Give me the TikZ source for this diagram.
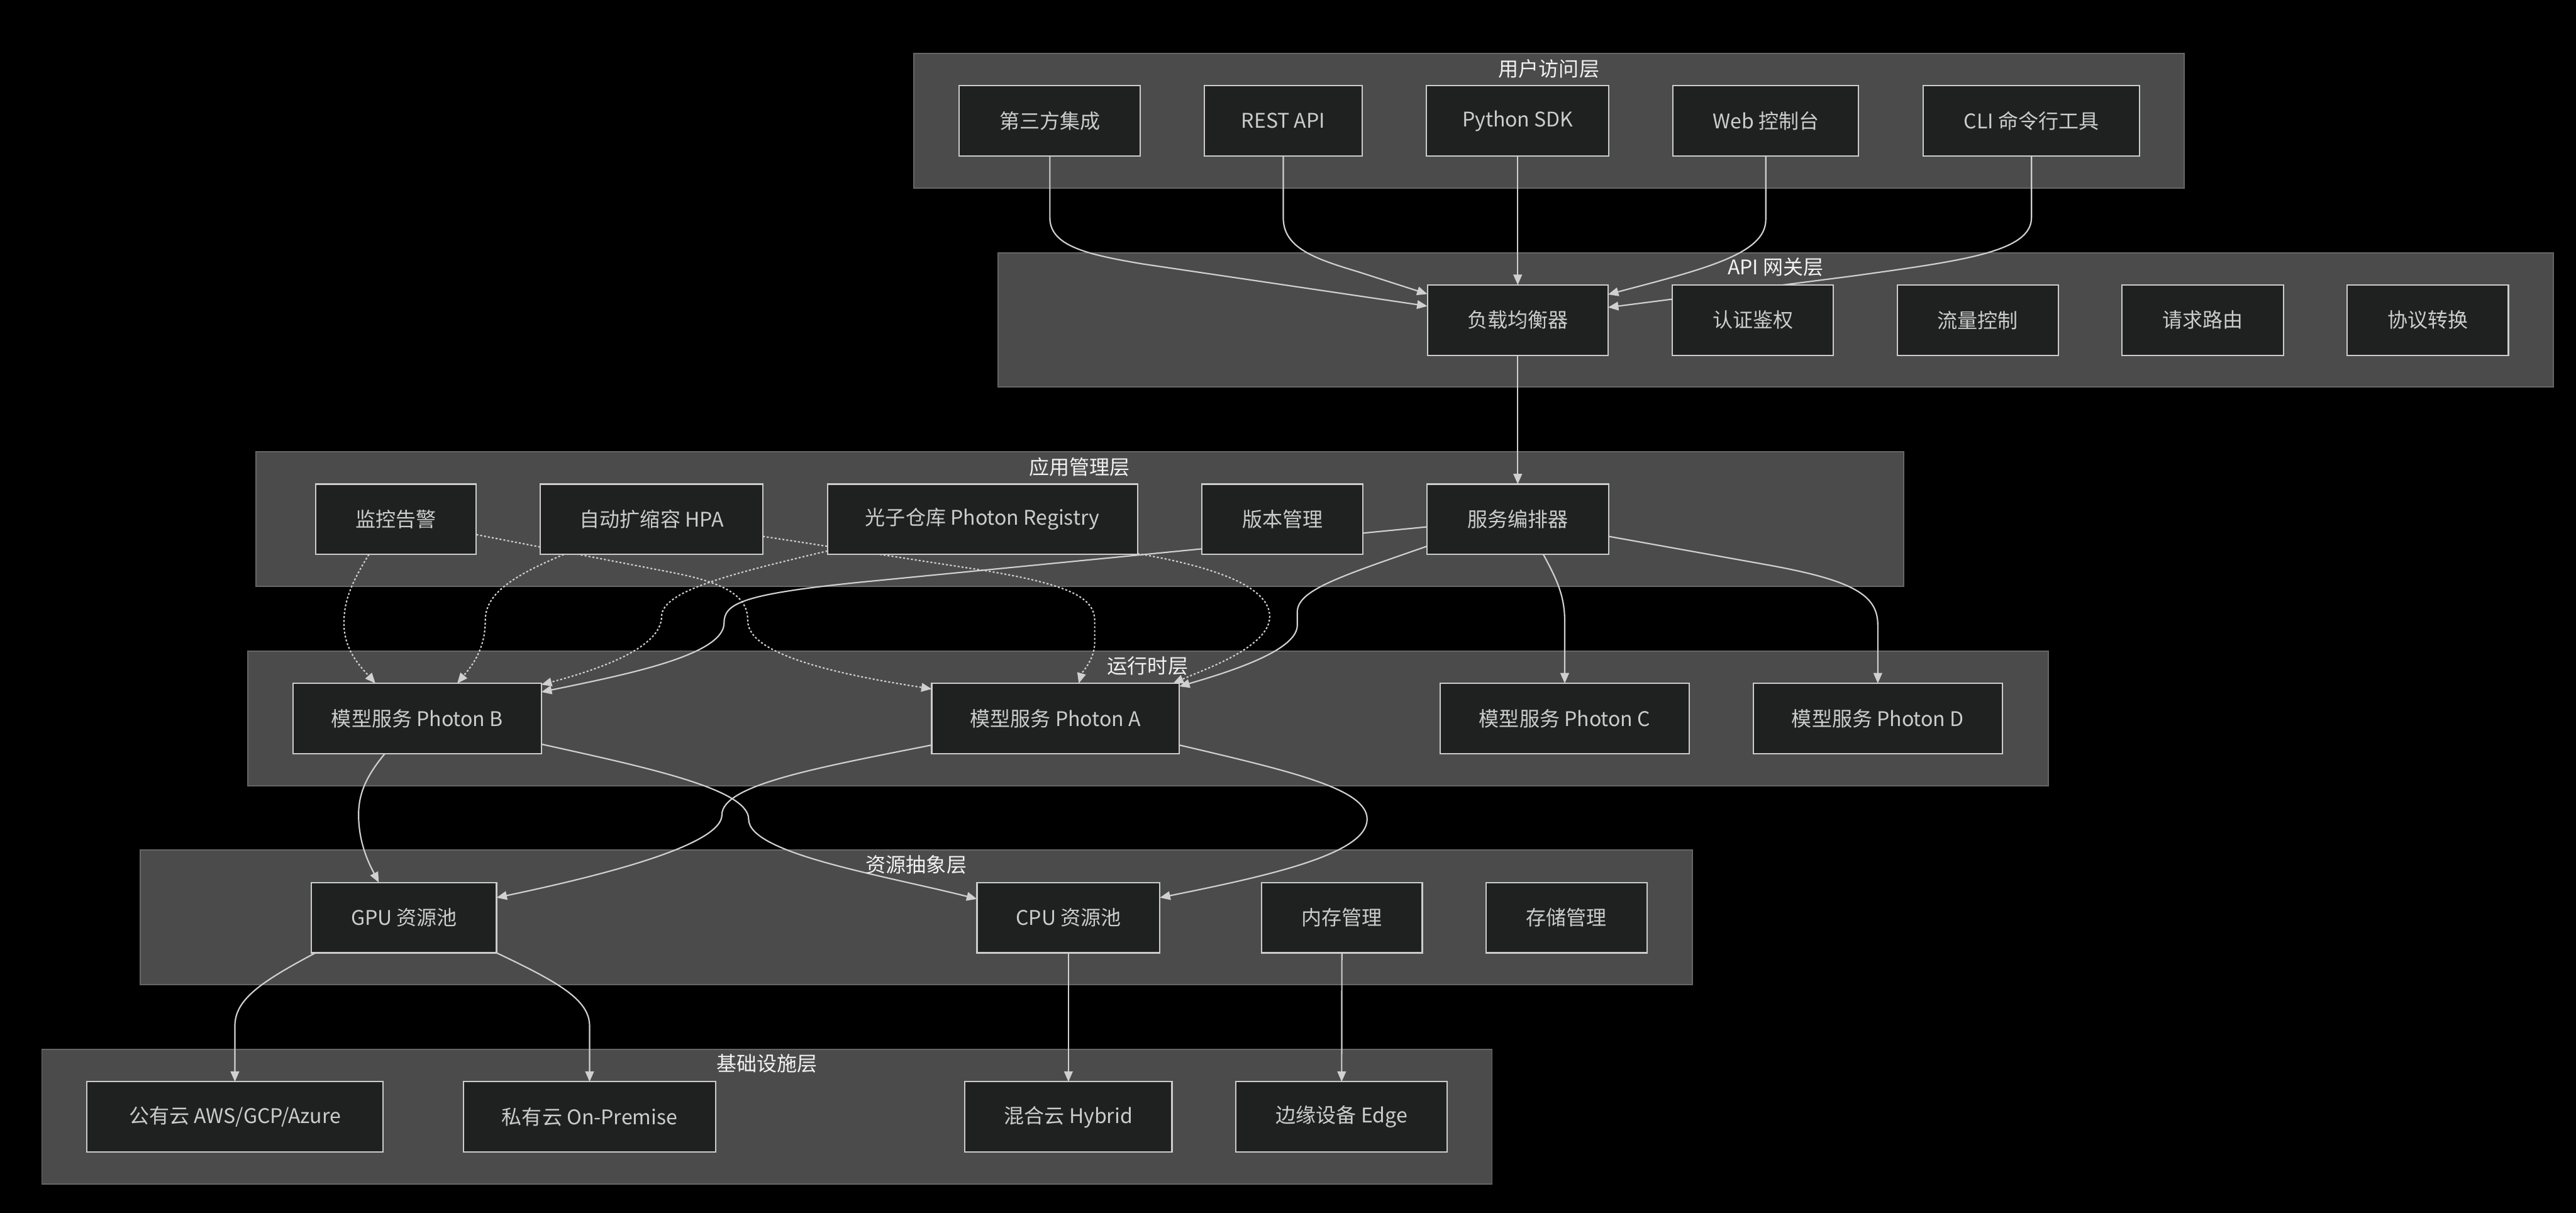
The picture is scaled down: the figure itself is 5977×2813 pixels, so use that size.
\documentclass[tikz,border=0pt]{standalone}
\usepackage{fontspec}
\setmainfont{Noto Sans CJK SC}
\usetikzlibrary{arrows.meta}
\pgfdeclarelayer{bglayer}
\pgfdeclarelayer{edgelayer}
\pgfsetlayers{bglayer,edgelayer,main}
\definecolor{bgcol}{HTML}{000000}
\definecolor{layfill}{HTML}{4A4B4A}
\definecolor{layborder}{HTML}{666666}
\definecolor{nodefill}{HTML}{1F2020}
\definecolor{nodeborder}{HTML}{CCCCCC}
\definecolor{nodetext}{HTML}{CCCCCC}
\definecolor{titletext}{HTML}{F2F2F2}
\definecolor{edgecol}{HTML}{D0D0D0}
\newcommand\ndfont{\fontsize{13.3pt}{16pt}\selectfont}
\tikzset{
  nd/.style={draw=nodeborder, fill=nodefill, line width=0.9pt, minimum height=1.63cm, inner sep=0pt, outer sep=0pt, text=nodetext, font=\ndfont},
  lay/.style={draw=layborder, fill=layfill, line width=0.8pt},
  ttl/.style={text=titletext, font=\ndfont, inner sep=0pt},
  edge/.style={draw=edgecol, line width=0.9pt, -{Triangle[length=0.24cm,width=0.2cm]}},
  dashedge/.style={edge, dash pattern=on 1.3pt off 1.3pt},
}
\begin{document}
\begin{tikzpicture}[x=0.01cm, y=-0.01cm]
\useasboundingbox (0,0) rectangle (5977,2813);

\begin{pgfonlayer}{bglayer}
\fill[bgcol] (0,0) rectangle (5977,2813);
\draw[lay] (2120,124) rectangle (5068,436);
\draw[lay] (2316,586) rectangle (5924,898);
\draw[lay] (594,1048) rectangle (4417,1360);
\draw[lay] (575,1510) rectangle (4752,1822);
\draw[lay] (325,1972) rectangle (3927,2284);
\draw[lay] (97,2434) rectangle (3462,2746);
\end{pgfonlayer}

% user layer
\node[nd, minimum width=4.20cm] (u1) at (2436,280.5) {第三方集成};
\node[nd, minimum width=3.65cm] (u2) at (2977.5,280.5) {REST API};
\node[nd, minimum width=4.23cm] (u3) at (3521.5,280.5) {Python SDK};
\node[nd, minimum width=4.30cm] (u4) at (4097,280.5) {Web 控制台};
\node[nd, minimum width=5.01cm] (u5) at (4713.5,280.5) {CLI 命令行工具};
% api layer
\node[nd, minimum width=4.19cm] (g1) at (3521.5,742.5) {负载均衡器};
\node[nd, minimum width=3.74cm] (g2) at (4067,742.5) {认证鉴权};
\node[nd, minimum width=3.74cm] (g3) at (4589,742.5) {流量控制};
\node[nd, minimum width=3.74cm] (g4) at (5111,742.5) {请求路由};
\node[nd, minimum width=3.74cm] (g5) at (5633,742.5) {协议转换};
% app layer
\node[nd, minimum width=3.72cm] (a1) at (919,1204.5) {监控告警};
\node[nd, minimum width=5.16cm] (a2) at (1512,1204.5) {自动扩缩容 HPA};
\node[nd, minimum width=7.19cm] (a3) at (2279.5,1204.5) {光子仓库 Photon Registry};
\node[nd, minimum width=3.73cm] (a4) at (2975.5,1204.5) {版本管理};
\node[nd, minimum width=4.21cm] (a5) at (3521.5,1204.5) {服务编排器};
% runtime layer
\node[nd, minimum width=5.76cm] (r1) at (968,1666.5) {模型服务 Photon B};
\node[nd, minimum width=5.74cm] (r2) at (2449,1666.5) {模型服务 Photon A};
\node[nd, minimum width=5.77cm] (r3) at (3630.5,1666.5) {模型服务 Photon C};
\node[nd, minimum width=5.78cm] (r4) at (4357,1666.5) {模型服务 Photon D};
% resource layer
\node[nd, minimum width=4.29cm] (s1) at (937.5,2128.5) {GPU 资源池};
\node[nd, minimum width=4.24cm] (s2) at (2479,2128.5) {CPU 资源池};
\node[nd, minimum width=3.73cm] (s3) at (3113.5,2128.5) {内存管理};
\node[nd, minimum width=3.73cm] (s4) at (3634.5,2128.5) {存储管理};
% infra layer
\node[nd, minimum width=6.88cm] (i1) at (545,2590.5) {公有云 AWS/GCP/Azure};
\node[nd, minimum width=5.84cm] (i2) at (1368,2590.5) {私有云 On-Premise};
\node[nd, minimum width=4.80cm] (i3) at (2479,2590.5) {混合云 Hybrid};
\node[nd, minimum width=4.90cm] (i4) at (3113,2590.5) {边缘设备 Edge};

% layer titles
\node[ttl] (t1) at (3594,159) {用户访问层};
\node[ttl] (t2) at (4120,620) {API 网关层};
\node[ttl] (t3) at (2505,1083) {应用管理层};
\node[ttl] (t4) at (2663,1544) {运行时层};
\node[ttl] (t5) at (2126,2005) {资源抽象层};
\node[ttl] (t6) at (1780,2467) {基础设施层};

\begin{pgfonlayer}{edgelayer}
\draw[edge] (u1.south) -- (2436,505) .. controls (2436,570) and (2520,590) .. (2650,612) -- (g1.west |- 0,710);
\draw[edge] (u2.south) -- (2977.5,505) .. controls (2977.5,575) and (3050,600) .. (3150,630) -- (g1.west |- 0,682);
\draw[edge] (u3.south) -- (g1.north);
\draw[edge] (u4.south) -- (4097,510) .. controls (4097,590) and (3950,625) .. (g1.east |- 0,683);
\draw[edge] (u5.south) -- (4713.5,505) .. controls (4713.5,585) and (4550,605) .. (4300,640) -- (g1.east |- 0,713);
\draw[edge] (g1.south) -- (a5.north);
\draw[edge] (a5.south -| 3581,0) .. controls (3610,1340) and (3630.5,1380) .. (3630.5,1440) -- (r3.north);
\draw[edge] (a5.east |- 0,1244) -- (4100,1310) .. controls (4300,1346) and (4357,1380) .. (4357,1450) -- (r4.north);
\draw[edge] (a5.west |- 0,1267) .. controls (3100,1340) and (3010,1370) .. (3010,1420) -- (3010,1450) .. controls (3010,1500) and (2900,1545) .. (r2.east |- 0,1592);
\draw[edge] (a5.west |- 0,1222) -- (2000,1350) .. controls (1720,1378) and (1680,1400) .. (1680,1445) .. controls (1680,1520) and (1450,1565) .. (r1.east |- 0,1605);
% dashed
\draw[dashedge] (a1.south -| 856,0) .. controls (810,1360) and (798,1400) .. (798,1446) .. controls (798,1510) and (840,1550) .. (r1.north -| 871,0);
\draw[dashedge] (a1.east |- 0,1240) -- (1560,1328) .. controls (1700,1355) and (1735,1390) .. (1735,1440) .. controls (1735,1520) and (1950,1565) .. (r2.west |- 0,1598);
\draw[dashedge] (a2.south -| 1308,0) .. controls (1180,1340) and (1126,1380) .. (1126,1440) .. controls (1126,1510) and (1090,1550) .. (r1.north -| 1061,0);
\draw[dashedge] (a2.east |- 0,1244) -- (2250,1318) .. controls (2480,1353) and (2540,1385) .. (2540,1440) -- (2540,1490) .. controls (2540,1530) and (2510,1560) .. (r2.north -| 2503,0);
\draw[dashedge] (a3.west |- 0,1278) .. controls (1700,1330) and (1535,1370) .. (1535,1430) .. controls (1535,1500) and (1400,1550) .. (r1.east |- 0,1588);
\draw[dashedge] (a3.east |- 0,1284) .. controls (2850,1320) and (2946,1370) .. (2946,1430) .. controls (2946,1500) and (2800,1550) .. (r2.north -| 2722,0);
% runtime -> resource
\draw[edge] (r1.south -| 893,0) .. controls (850,1800) and (832,1840) .. (832,1890) .. controls (832,1960) and (860,2010) .. (s1.north -| 879,0);
\draw[edge] (r1.east |- 0,1726) .. controls (1500,1780) and (1737,1830) .. (1737,1900) .. controls (1737,1980) and (2050,2030) .. (s2.west |- 0,2085);
\draw[edge] (r2.west |- 0,1728) .. controls (1900,1780) and (1675,1820) .. (1675,1890) .. controls (1675,1960) and (1400,2030) .. (s1.east |- 0,2082);
\draw[edge] (r2.east |- 0,1728) .. controls (3000,1790) and (3172,1830) .. (3172,1900) .. controls (3172,1980) and (2950,2030) .. (s2.east |- 0,2082);
% resource -> infra
\draw[edge] (s1.south -| 732,0) .. controls (600,2280) and (545,2320) .. (545,2380) -- (i1.north);
\draw[edge] (s1.south east) .. controls (1300,2280) and (1368,2320) .. (1368,2380) -- (i2.north);
\draw[edge] (s2.south) -- (i3.north);
\draw[edge] (s3.south) -- (i4.north);
\end{pgfonlayer}
\end{tikzpicture}
\end{document}
